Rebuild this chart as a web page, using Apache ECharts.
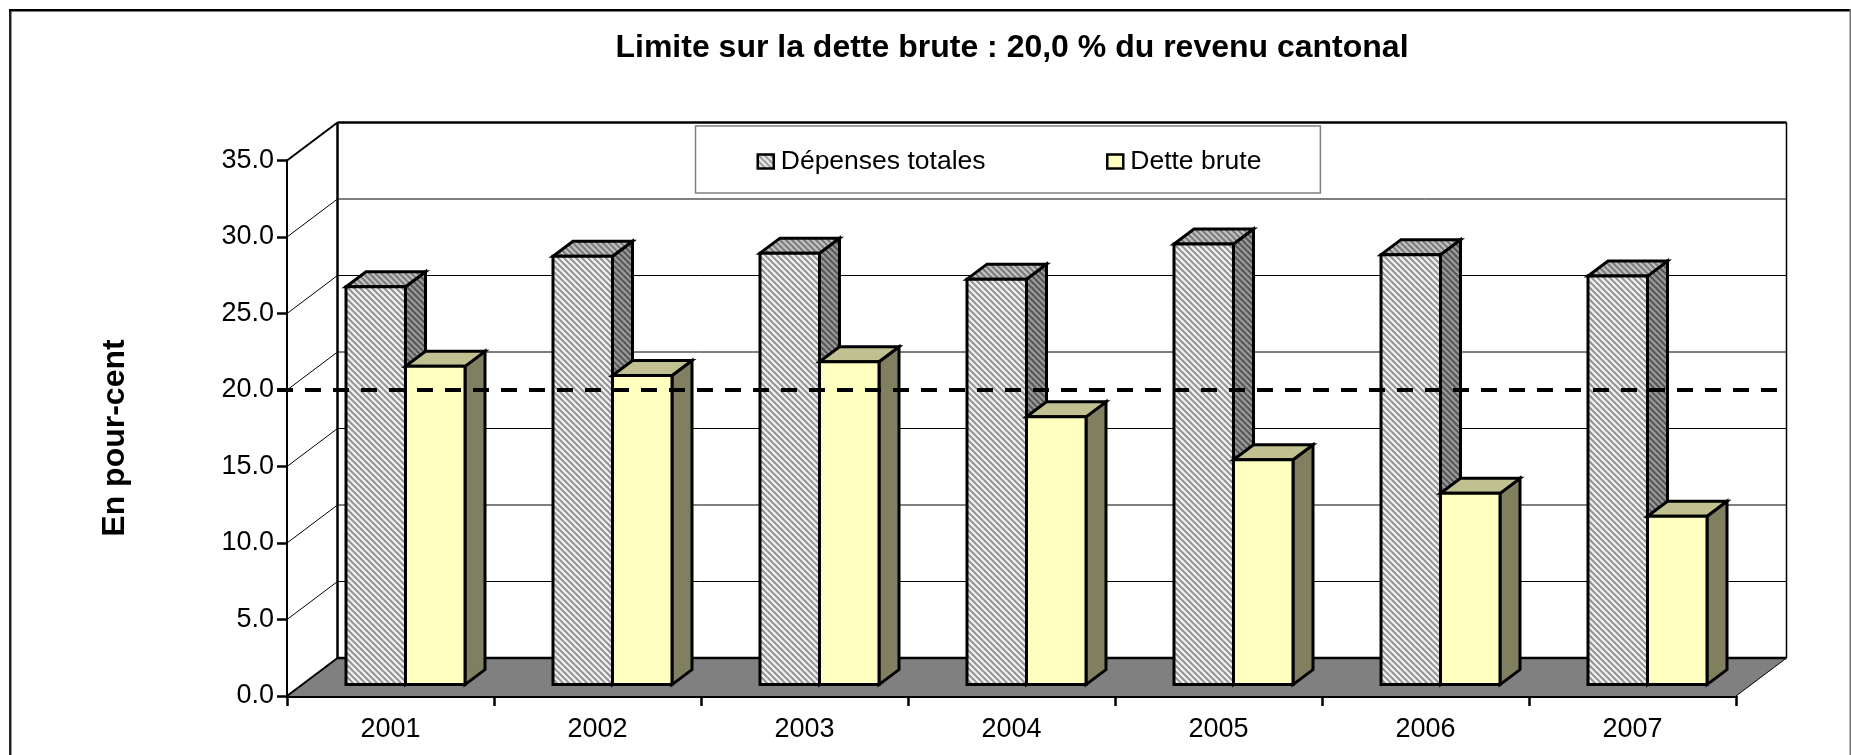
<!DOCTYPE html>
<html>
<head>
<meta charset="utf-8">
<title>Limite sur la dette brute</title>
<style>
  html, body { margin: 0; padding: 0; background: #fff; }
  #chart { width: 1851px; height: 755px; }
</style>
<script src="https://cdn.jsdelivr.net/npm/echarts@6/dist/echarts.min.js"></script>
</head>
<body>
<div id="chart"></div>
<script>
  const years = ['2001', '2002', '2003', '2004', '2005', '2006', '2007']
  const depensesTotales = [26.0, 28.0, 28.2, 26.5, 28.8, 28.1, 26.7]
  const detteBrute = [20.8, 20.2, 21.1, 17.5, 14.7, 12.5, 11.0]
  const yTicks = [0, 5, 10, 15, 20, 25, 30, 35]
  const limite = [20]

  const font = '"Liberation Sans", Arial, sans-serif'

  // profondeur du faux 3D (mur du fond / barres)
  const wallDX = 50.5
  const wallDY = -38
  const barDX = 20
  const barDY = -15
  const barOffX = 15
  const barOffY = -11.4
  const barW = 59.5

  const hatch = (bg, stripe) => {
    const c = document.createElement('canvas')
    c.width = 6
    c.height = 6
    const ctx = c.getContext('2d')
    ctx.fillStyle = bg
    ctx.fillRect(0, 0, 6, 6)
    ctx.strokeStyle = stripe
    ctx.lineWidth = 2.2
    for (let i = -6; i <= 6; i += 6) {
      ctx.beginPath()
      ctx.moveTo(i - 1, -1)
      ctx.lineTo(i + 7, 7)
      ctx.stroke()
    }
    return { image: c, repeat: 'repeat' }
  }

  const poly = (points, fill, lineWidth) => ({
    type: 'polygon',
    shape: { points },
    style: { fill, stroke: '#000', lineWidth: lineWidth === undefined ? 3 : lineWidth, lineJoin: 'miter' }
  })

  const line = (x1, y1, x2, y2, lineWidth, extra) => ({
    type: 'line',
    shape: { x1, y1, x2, y2 },
    style: Object.assign({ stroke: '#000', lineWidth, fill: null }, extra || {})
  })

  // une barre : face, dessus, côté
  const bar3d = (shift, front, top, side) => (params, api) => {
    const i = api.value(0)
    const base = api.coord([i, 0])
    const head = api.coord([i, api.value(1)])
    const x0 = base[0] + shift + barOffX
    const x1 = x0 + barW
    const y0 = base[1] + barOffY
    const y1 = head[1] + barOffY
    return {
      type: 'group',
      children: [
        poly([[x1, y0], [x1 + barDX, y0 + barDY], [x1 + barDX, y1 + barDY], [x1, y1]], side),
        poly([[x0, y1], [x1, y1], [x1 + barDX, y1 + barDY], [x0 + barDX, y1 + barDY]], top),
        poly([[x0, y0], [x1, y0], [x1, y1], [x0, y1]], front)
      ]
    }
  }

  const greyFront = hatch('#f4f4f4', '#969696')
  const greyTop = hatch('#c4c4c4', '#7c7c7c')
  const greySide = hatch('#9c9c9c', '#585858')

  const chart = echarts.init(document.getElementById('chart'), null, { renderer: 'canvas' })

  chart.setOption({
    animation: false,
    backgroundColor: '#fff',
    title: {
      text: 'Limite sur la dette brute : 20,0 % du revenu cantonal',
      left: 1007,
      top: 27,
      textAlign: 'center',
      textStyle: { fontFamily: font, fontSize: 32, fontWeight: 'bold', color: '#000' }
    },
    legend: {
      data: ['Dépenses totales', 'Dette brute'],
      left: 695.5,
      top: 126,
      padding: [22, 59, 18, 61],
      itemGap: 120.5,
      itemWidth: 16,
      itemHeight: 14,
      icon: 'rect',
      borderColor: '#808080',
      borderWidth: 1.5,
      backgroundColor: '#fff',
      itemStyle: { borderColor: '#000', borderWidth: 2.5 },
      textStyle: { fontFamily: font, fontSize: 26.5, color: '#000', padding: [0, 0, 0, 2] }
    },
    grid: { left: 287, top: 160.5, width: 1449, height: 535.5 },
    xAxis: {
      type: 'category',
      data: years,
      axisLine: { lineStyle: { color: '#000', width: 3 } },
      axisTick: { show: true, length: 10, alignWithLabel: false, lineStyle: { color: '#000', width: 2.5 } },
      axisLabel: { margin: 20, fontFamily: font, fontSize: 27, color: '#000' },
      splitLine: { show: false }
    },
    yAxis: {
      type: 'value',
      min: 0,
      max: 35,
      interval: 5,
      axisLine: { show: true, lineStyle: { color: '#000', width: 2 } },
      axisTick: { show: true, length: 10, lineStyle: { color: '#000', width: 2.5 } },
      axisLabel: {
        margin: 13,
        fontFamily: font,
        fontSize: 27,
        color: '#000',
        padding: [4, 0, 0, 0],
        formatter: (v) => v.toFixed(1)
      },
      splitLine: { show: false }
    },
    graphic: [
      { type: 'rect', z: -1, shape: { x: 9, y: 9, width: 2.5, height: 746 }, style: { fill: '#222' } },
      { type: 'rect', z: -1, shape: { x: 9, y: 9, width: 1842, height: 2.5 }, style: { fill: '#000' } },
      { type: 'rect', z: -1, shape: { x: 1849.5, y: 9, width: 1.5, height: 746 }, style: { fill: '#707070' } },
      {
        type: 'text',
        x: 115,
        y: 438,
        rotation: Math.PI / 2,
        style: {
          text: 'En pour-cent',
          fontFamily: font,
          fontSize: 32,
          fontWeight: 'bold',
          fill: '#000',
          textAlign: 'center',
          textVerticalAlign: 'middle'
        }
      }
    ],
    series: [
      {
        // murs et sol
        type: 'custom',
        silent: true,
        z: 1,
        data: [[0]],
        renderItem: (params, api) => {
          const o = api.coord([0, 0])
          const band = api.size([1, 0])[0]
          const x0 = o[0] - band / 2
          const x1 = x0 + band * years.length
          const y0 = o[1]
          const yTop = api.coord([0, 35])[1]
          return {
            type: 'group',
            children: [
              poly([[x0, y0], [x1, y0], [x1 + wallDX, y0 + wallDY], [x0 + wallDX, y0 + wallDY]], '#808080', 0),
              line(x1, y0, x1 + wallDX, y0 + wallDY, 1),
              line(x0 + wallDX, y0 + wallDY, x1 + wallDX, y0 + wallDY, 2.5),
              line(x0 + wallDX, yTop + wallDY, x1 + wallDX, yTop + wallDY, 2.5),
              line(x0 + wallDX, yTop + wallDY, x0 + wallDX, y0 + wallDY, 2.5),
              line(x1 + wallDX, yTop + wallDY, x1 + wallDX, y0 + wallDY, 1.5),
              line(x0, yTop, x0 + wallDX, yTop + wallDY, 2),
              line(x0, y0, x0 + wallDX, y0 + wallDY, 2)
            ]
          }
        }
      },
      {
        // grille : ligne du fond + diagonale du mur gauche
        type: 'custom',
        silent: true,
        z: 1,
        data: yTicks.slice(1, -1).map((v) => [v]),
        renderItem: (params, api) => {
          const p = api.coord([0, api.value(0)])
          const band = api.size([1, 0])[0]
          const x0 = p[0] - band / 2
          const x1 = x0 + band * years.length
          return {
            type: 'group',
            children: [
              line(x0, p[1], x0 + wallDX, p[1] + wallDY, 1),
              line(x0 + wallDX, p[1] + wallDY, x1 + wallDX, p[1] + wallDY, 1)
            ]
          }
        }
      },
      {
        name: 'Dépenses totales',
        type: 'custom',
        z: 3,
        itemStyle: { color: greyFront },
        data: depensesTotales.map((v, i) => [i, v]),
        renderItem: bar3d(-barW, greyFront, greyTop, greySide)
      },
      {
        name: 'Dette brute',
        type: 'custom',
        z: 4,
        itemStyle: { color: '#FFFFC0' },
        data: detteBrute.map((v, i) => [i, v]),
        renderItem: bar3d(0, '#FFFFC0', '#C0C090', '#808060')
      },
      {
        // limite en pointillés, par-dessus tout
        type: 'custom',
        silent: true,
        z: 6,
        data: limite.map((v) => [v]),
        renderItem: (params, api) => {
          const p = api.coord([0, api.value(0)])
          const x0 = p[0] - api.size([1, 0])[0] / 2
          return line(x0 - 10, p[1], x0 + 1493, p[1], 4, { lineDash: [16, 12] })
        }
      }
    ]
  })

  window.addEventListener('resize', () => chart.resize())
</script>
</body>
</html>
